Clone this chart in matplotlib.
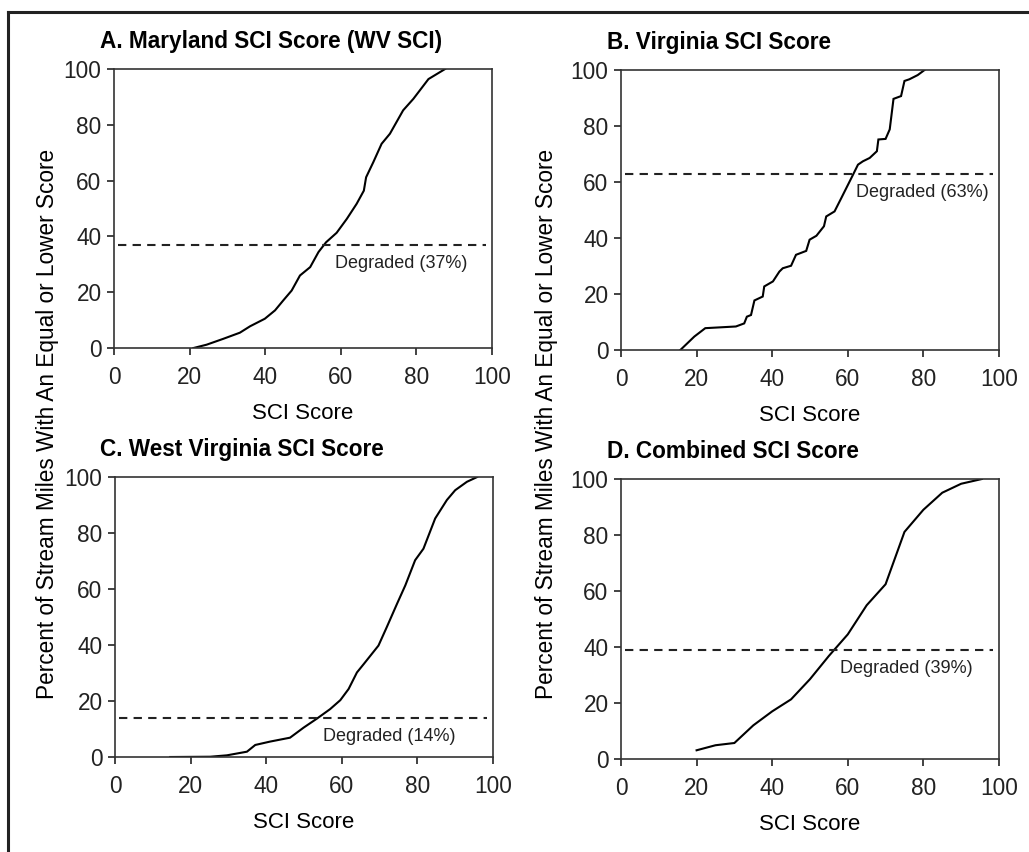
import numpy as np
import matplotlib
matplotlib.use("Agg")
import matplotlib.pyplot as plt
from matplotlib.lines import Line2D

plt.rcParams['font.family'] = ['Liberation Sans', 'DejaVu Sans']

# Data
md_score = [21.0, 24.5, 28.9, 33.3, 36.0, 39.9, 42.6, 44.8, 47.0, 49.2, 51.9, 54.1, 56.1,
            58.9, 61.6, 64.2, 66.1, 66.7, 68.6, 70.8, 73.0, 76.5, 79.2, 83.2, 87.6]
md_pct = [0, 1.2, 3.3, 5.5, 7.8, 10.5, 13.5, 17.1, 20.6, 26.0, 29.0, 34.4, 37.9,
          41.3, 46.3, 51.7, 56.4, 61.2, 66.6, 73.2, 76.8, 85.2, 89.3, 96.4, 100]

va_score = [15.7, 19.4, 22.3, 30.4, 32.6, 33.3, 34.4, 35.3, 37.5, 37.9, 40.2, 41.9, 42.8,
            45.0, 46.3, 49.0, 49.9, 51.7, 53.7, 54.3, 56.5, 58.3, 59.6, 61.2, 62.7, 64.0,
            65.8, 67.7, 68.1, 70.0, 71.1, 72.1, 74.1, 75.0, 76.3, 78.5, 80.3]
va_pct = [0, 4.8, 7.8, 8.4, 9.5, 11.9, 12.5, 17.7, 19.1, 22.7, 24.5, 28.0, 29.2,
          30.1, 34.0, 35.4, 39.4, 40.8, 44.2, 47.7, 49.5, 54.3, 57.8, 62.1, 66.2, 67.4,
          68.6, 71.0, 75.2, 75.4, 78.8, 89.7, 90.7, 96.1, 96.7, 98.2, 100]

wv_score = [14.6, 25.2, 29.6, 34.9, 37.1, 41.0, 46.3, 49.9, 53.4, 56.9, 59.6, 61.8, 64.0,
            65.8, 69.7, 71.9, 74.6, 76.8, 79.4, 81.6, 84.7, 87.8, 90.0, 93.1, 95.8]
wv_pct = [0, 0.1, 0.6, 1.9, 4.3, 5.5, 6.9, 10.5, 13.7, 17.1, 20.3, 24.3, 30.2,
          33.2, 39.8, 46.4, 54.7, 61.3, 70.3, 74.4, 85.2, 91.8, 95.3, 98.3, 100]

all_score = [20, 25, 30, 35, 40, 45, 50, 55, 60, 65, 70, 75, 80, 85, 90, 95.5]
all_pct = [3.1, 4.9, 5.7, 12.0, 17.0, 21.3, 28.5, 36.8, 44.5, 54.9, 62.4, 81.1, 89.0, 95.1, 98.3, 100]

titles = ["A. Maryland SCI Score (WV SCI)", "B. Virginia SCI Score",
          "C. West Virginia SCI Score", "D. Combined SCI Score"]
degraded = [37, 63, 14, 39]
label_x = [58.5, 62.2, 55.0, 58.0]

fig = plt.figure(figsize=(10.29, 8.52), dpi=100)

boxes = [[0.1108, 0.5915, 0.3673, 0.3275],
         [0.6035, 0.5892, 0.3673, 0.3286],
         [0.1118, 0.1115, 0.3673, 0.3286],
         [0.6035, 0.1092, 0.3673, 0.3286]]
title_pos = [(0.0972, 0.9437), (0.5899, 0.9425), (0.0972, 0.4648), (0.5899, 0.4625)]
curves = [(md_score, md_pct), (va_score, va_pct), (wv_score, wv_pct), (all_score, all_pct)]

for i in range(4):
    ax = fig.add_axes(boxes[i])
    x, y = curves[i]
    ax.plot(x, y, color='black', lw=1.5, solid_joinstyle='miter')
    ax.hlines(degraded[i], 1, 98.5, colors='#222222', lw=1.5, linestyles=(0, (4, 3)))
    ax.text(label_x[i], degraded[i] - 6.8, "Degraded (%d%%)" % degraded[i],
            fontsize=13, va='center', ha='left', color='#222222')
    ax.set_xlim(0, 100)
    ax.set_ylim(0, 100)
    ax.set_xticks([0, 20, 40, 60, 80, 100])
    ax.set_yticks([0, 20, 40, 60, 80, 100])
    ax.tick_params(direction='out', length=5, width=1.2, labelsize=16.3, colors='#222222')
    ax.tick_params(axis='x', pad=8)
    ax.tick_params(axis='y', pad=4)
    for s in ax.spines.values():
        s.set_linewidth(1.2)
        s.set_color('#333333')
    ax.set_xlabel("SCI Score", fontsize=16, labelpad=10)
    fig.text(title_pos[i][0], title_pos[i][1], titles[i], fontsize=16.3,
             fontweight='bold', ha='left', va='baseline')

ylab = "Percent of Stream Miles With An Equal or Lower Score"
fig.text(0.046, 0.503, ylab, rotation=90, fontsize=16.3, ha='center', va='center')
fig.text(0.531, 0.503, ylab, rotation=90, fontsize=16.3, ha='center', va='center')

# partial frame (top and left)
fig.add_artist(Line2D([0.0078, 1.0], [0.9859, 0.9859], color='#222222', lw=2.2))
fig.add_artist(Line2D([0.0078, 0.0078], [0.0, 0.9859], color='#222222', lw=2.2))

fig.savefig("out.png", dpi=100)
